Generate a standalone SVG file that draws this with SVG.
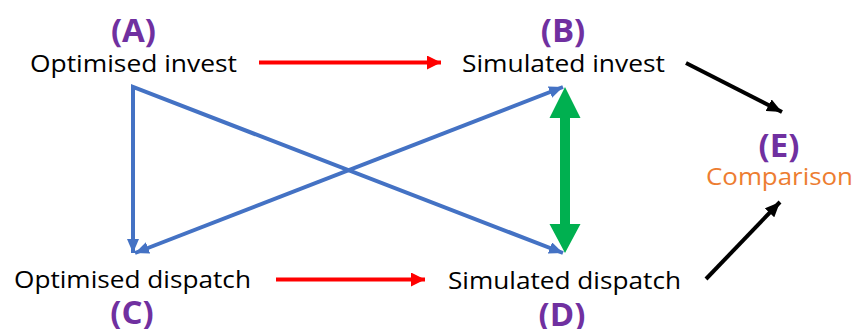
<svg xmlns="http://www.w3.org/2000/svg" width="854" height="329" viewBox="0 0 854 329">
  <style>
    .lbl { font-family: "Open Sans", "Liberation Sans", sans-serif; font-size: 24px; fill: #000; }
    .tag { font-family: "Open Sans", "Liberation Sans", sans-serif; font-size: 33px; font-weight: bold; fill: #7030A0; text-anchor: middle; }
    .cmp { font-family: "Open Sans", "Liberation Sans", sans-serif; font-size: 24px; fill: #ED7D31; }
    .red { stroke: #FF0000; stroke-width: 4; fill: none; }
    .blue { stroke: #4472C4; stroke-width: 4; fill: none; }
    .black { stroke: #000; stroke-width: 4; fill: none; }
  </style>
  <defs>
    <marker id="headRed" viewBox="0 0 14 14" refX="14" refY="7" markerWidth="14" markerHeight="14" markerUnits="userSpaceOnUse" orient="auto">
      <path d="M0,0 L14,7 L0,14 Z" fill="#FF0000"/>
    </marker>
    <marker id="headBlue" viewBox="0 0 14 12" refX="14" refY="6" markerWidth="14" markerHeight="12" markerUnits="userSpaceOnUse" orient="auto-start-reverse">
      <path d="M0,0 L14,6 L0,12 Z" fill="#4472C4"/>
    </marker>
    <marker id="headBlack" viewBox="0 0 15 13" refX="15" refY="6.5" markerWidth="15" markerHeight="13" markerUnits="userSpaceOnUse" orient="auto">
      <path d="M0,0 L15,6.5 L0,13 Z" fill="#000"/>
    </marker>
  </defs>

  <g id="connectors">
    <!-- optimised -> simulated -->
    <line class="red" x1="259" y1="62.5" x2="441" y2="62.5" marker-end="url(#headRed)"/>
    <line class="red" x1="276" y1="279.5" x2="425" y2="279.5" marker-end="url(#headRed)"/>
    <!-- blue links from the optimised invest corner -->
    <polyline class="blue" points="133,253 133,87 563,253" stroke-linejoin="miter" marker-start="url(#headBlue)" marker-end="url(#headBlue)"/>
    <!-- blue link between optimised dispatch and simulated invest, headed both ways -->
    <line class="blue" x1="135" y1="253" x2="563" y2="87" marker-start="url(#headBlue)" marker-end="url(#headBlue)"/>
    <!-- simulated invest <-> simulated dispatch -->
    <path d="M565,87 L580.5,118 L570,118 L570,224 L580.5,224 L565,253 L549.5,224 L560,224 L560,118 L549.5,118 Z" fill="#00B050"/>
    <!-- into comparison -->
    <line class="black" x1="686" y1="63" x2="782" y2="112" marker-end="url(#headBlack)"/>
    <line class="black" x1="706" y1="279" x2="780" y2="202" marker-end="url(#headBlack)"/>
  </g>

  <g id="node-a">
    <text class="tag" x="133.5" y="42">(A)</text>
    <text class="lbl" x="30" y="72" textLength="207" lengthAdjust="spacingAndGlyphs">Optimised invest</text>
  </g>
  <g id="node-b">
    <text class="tag" x="563" y="42">(B)</text>
    <text class="lbl" x="462" y="72" textLength="203" lengthAdjust="spacingAndGlyphs">Simulated invest</text>
  </g>
  <g id="node-c">
    <text class="lbl" x="14" y="288" textLength="237" lengthAdjust="spacingAndGlyphs">Optimised dispatch</text>
    <text class="tag" x="132" y="324">(C)</text>
  </g>
  <g id="node-d">
    <text class="lbl" x="448" y="289" textLength="233" lengthAdjust="spacingAndGlyphs">Simulated dispatch</text>
    <text class="tag" x="562" y="326">(D)</text>
  </g>
  <g id="node-e">
    <text class="tag" x="779" y="157">(E)</text>
    <text class="cmp" x="706" y="185" textLength="147" lengthAdjust="spacingAndGlyphs">Comparison</text>
  </g>
</svg>
